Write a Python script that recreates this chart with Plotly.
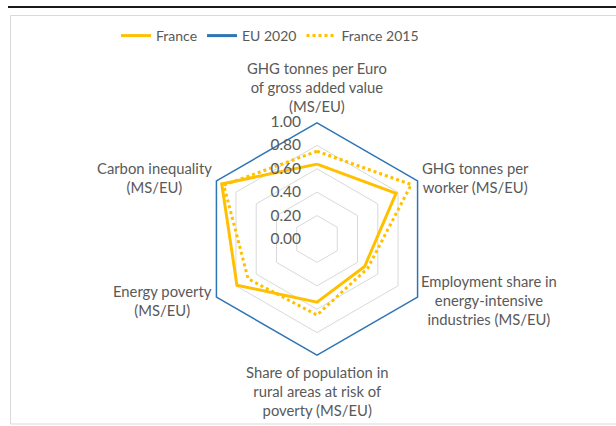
import plotly.graph_objects as go

categories = [
    "GHG tonnes per Euro<br>of gross added value<br>(MS/EU)",
    "GHG tonnes per<br>worker (MS/EU)",
    "Employment share in<br>energy-intensive<br>industries (MS/EU)",
    "Share of population in<br>rural areas at risk of<br>poverty (MS/EU)",
    "Energy poverty<br>(MS/EU)",
    "Carbon inequality<br>(MS/EU)",
]
france = [0.64, 0.78, 0.47, 0.54, 0.79, 0.94]
eu_2020 = [1.0, 1.0, 1.0, 1.0, 1.0, 1.0]
france_2015 = [0.75, 0.93, 0.50, 0.65, 0.68, 0.92]
radial_ticks = [0.0, 0.2, 0.4, 0.6, 0.8, 1.0]
radial_ticktext = ["0.00", "0.20", "0.40", "0.60", "0.80", "1.00"]

W, H = 616, 426
FONT = "Lato"
GRAY = "#595959"
YELLOW = "#FFC000"
BLUE = "#2E75B6"

# category label anchor (pixel centre of each text block)
label_pos = [(317, 87), (475, 177), (489, 300), (317, 391), (162, 300), (154, 177)]

def closed(v):
    return list(v) + [v[0]]

theta = closed(categories)

fig = go.Figure()
fig.add_trace(go.Scatterpolar(r=closed(france), theta=theta, mode="lines", name="France",
                              line=dict(color=YELLOW, width=3), cliponaxis=False))
fig.add_trace(go.Scatterpolar(r=closed(eu_2020), theta=theta, mode="lines", name="EU 2020",
                              line=dict(color=BLUE, width=3), cliponaxis=False))
fig.add_trace(go.Scatterpolar(r=closed(france_2015), theta=theta, mode="lines", name="France 2015",
                              line=dict(color=YELLOW, width=3, dash="dot"), cliponaxis=False))

annotations = []
for txt, (px, py) in zip(categories, label_pos):
    annotations.append(dict(text=txt, xref="paper", yref="paper", x=px / W, y=1 - py / H,
                            xanchor="center", yanchor="middle", align="center", showarrow=False,
                            font=dict(family=FONT, size=14.8, color=GRAY)))

cx, cy, R = 317, 239, 117
fig.update_layout(
    width=W, height=H,
    margin=dict(l=0, r=0, t=0, b=0),
    paper_bgcolor="white",
    plot_bgcolor="white",
    font=dict(family=FONT, size=15, color=GRAY),
    showlegend=True,
    legend=dict(orientation="h", x=270 / W, xanchor="center", y=1 - 20 / H, yanchor="top",
                font=dict(family=FONT, size=14, color=GRAY), itemwidth=30,
                traceorder="normal"),
    polar=dict(
        domain=dict(x=[(cx - R) / W, (cx + R) / W], y=[1 - (cy + R) / H, 1 - (cy - R) / H]),
        bgcolor="white",
        gridshape="linear",
        angularaxis=dict(direction="clockwise", rotation=90, showgrid=False,
                         showline=False, ticks="", showticklabels=False),
        radialaxis=dict(range=[0, 1], tickvals=radial_ticks, ticktext=radial_ticktext,
                        angle=90, tickangle=90, side="counterclockwise", showline=False,
                        ticks="outside", ticklen=10, tickcolor="rgba(0,0,0,0)",
                        gridcolor="#D9D9D9", gridwidth=1,
                        tickfont=dict(family=FONT, size=15.5, color=GRAY)),
    ),
    annotations=annotations,
    shapes=[
        dict(type="line", xref="paper", yref="paper", x0=8 / W, x1=1, y0=1 - 7 / H, y1=1 - 7 / H,
             line=dict(color="#1a1a1a", width=2)),
        dict(type="rect", xref="paper", yref="paper", x0=10.5 / W, x1=1.01, y0=1 - 424 / H, y1=1 - 15.5 / H,
             line=dict(color="#D9D9D9", width=1), layer="below"),
    ],
)

fig.write_html("out.html", config={"displayModeBar": False},
               post_script="document.body.style.margin='0';")
